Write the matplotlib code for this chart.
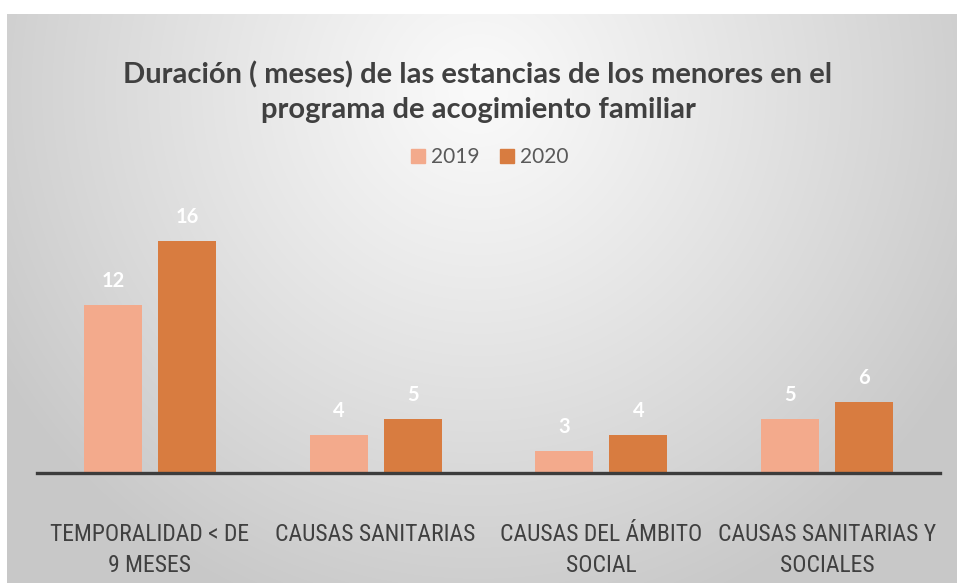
import numpy as np
import matplotlib
matplotlib.use("Agg")
import matplotlib.pyplot as plt
from matplotlib import font_manager
from matplotlib.patches import Patch

categories = ["TEMPORALIDAD < DE\n9 MESES", "CAUSAS SANITARIAS",
              "CAUSAS DEL ÁMBITO\nSOCIAL", "CAUSAS SANITARIAS Y\nSOCIALES"]
series_names = ["2019", "2020"]
values_2019 = [12, 4, 3, 5]
values_2020 = [16, 5, 4, 6]
title = "Duración ( meses) de las estancias de los menores en el\nprograma de acogimiento familiar"

avail = {f.name for f in font_manager.fontManager.ttflist}
main_font = "Lato" if "Lato" in avail else "DejaVu Sans"
narrow_font = None
for cand in ["Liberation Sans Narrow", "DejaVu Sans Condensed", "Roboto Condensed"]:
    if cand in avail:
        narrow_font = cand
        break
if narrow_font is None:
    narrow_font = main_font

W, H = 957, 583
fig = plt.figure(figsize=(W / 100, H / 100), dpi=100)
fig.patch.set_facecolor("white")

# radial gradient background
bx0, by0 = 7, 14
bg = fig.add_axes([bx0 / W, 0, (W - bx0) / W, (H - by0) / H], zorder=-10)
xs = np.arange(bx0, W)
ys = np.arange(by0, H)
X, Y = np.meshgrid(xs, ys)
cx, cy = 478, 90
d = np.sqrt(((X - cx) / 560.0) ** 2 + ((Y - cy) / 560.0) ** 2)
d = np.clip(d, 0, 1)
g = (250 - (250 - 200) * d ** 1.1) / 255.0
img = np.dstack([g, g, g])
bg.imshow(img, aspect="auto", extent=[0, 1, 0, 1], interpolation="bilinear")
bg.axis("off")

# main axes
ax_left, ax_right = 37, 940
ax_bottom_px, ax_top_px = 473, 200
ax = fig.add_axes([ax_left / W, (H - ax_bottom_px) / H,
                   (ax_right - ax_left) / W, (ax_bottom_px - ax_top_px) / H])
ax.patch.set_alpha(0)

x = np.arange(len(categories))
bw = 0.257
off = 0.164
c2019 = "#F3AA8C"
c2020 = "#D87C40"
b1 = ax.bar(x - off, values_2019, bw, color=c2019, zorder=2)
b2 = ax.bar(x + off, values_2020, bw, color=c2020, zorder=2)

ymin = 1.64
ax.set_ylim(ymin, ymin + (ax_bottom_px - ax_top_px) / 16.18)
ax.set_xlim(-0.5, len(categories) - 0.5)

for bars, vals in [(b1, values_2019), (b2, values_2020)]:
    for rect, v in zip(bars, vals):
        ax.annotate(str(v), (rect.get_x() + rect.get_width() / 2, v),
                    xytext=(0, 24), textcoords="offset pixels",
                    ha="center", va="center", color="white",
                    fontsize=14.5, fontweight="bold", family=main_font)

for s in ["top", "right", "left"]:
    ax.spines[s].set_visible(False)
ax.spines["bottom"].set_color("#3C3C3C")
ax.spines["bottom"].set_linewidth(2.4)
ax.spines["bottom"].set_zorder(3)
ax.set_yticks([])
ax.set_xticks(x)
ax.set_xticklabels(categories, fontsize=17, color="#404040",
                   family=narrow_font, linespacing=1.45)
ax.tick_params(axis="x", length=0, pad=36)

# title
fig.text(478 / W, 1 - 92 / H, title, ha="center", va="center",
         fontsize=21, fontweight="bold", color="#404040",
         family=main_font, linespacing=1.38)

# legend
handles = [Patch(color=c2019), Patch(color=c2020)]
fig.legend(handles, series_names, loc="center", bbox_to_anchor=(490 / W, 1 - 157 / H),
           ncol=2, frameon=False, prop={"family": main_font, "size": 15},
           labelcolor="#595959", handlelength=0.65, handleheight=0.65,
           handletextpad=0.3, columnspacing=1.0)

fig.savefig("out.png", dpi=100)
